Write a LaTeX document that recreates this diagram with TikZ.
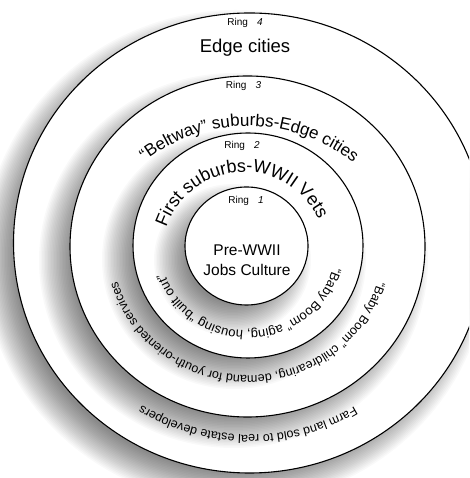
\documentclass[tikz,border=0pt]{standalone}
\usepackage{fontspec}
\setmainfont{Liberation Sans}
\usetikzlibrary{decorations.text}
\newcommand\ringshadow[4]{%
  \foreach \s in {-16,-14.5,...,17}{%
    \fill[black,opacity=0.023] (#1-14,#2-14) ellipse [x radius=#3+\s, y radius=#4+\s];}}
\begin{document}
\begin{tikzpicture}[x=1pt,y=1pt,
  ringline/.style={draw=black,line width=1.1pt,fill=white},
  ringlabel/.style={font=\fontsize{10}{12}\selectfont,inner sep=0pt},
  bigtext/.style={font=\fontsize{18.5}{22}\selectfont,inner sep=0pt},
  arctext/.style={decorate,decoration={text along path,text align=center,text={#1}}}]
\useasboundingbox (0,0) rectangle (469,478);
\clip (0,0) rectangle (469,478);
\fill[white] (0,0) rectangle (469,478);
% Ring 4
\ringshadow{249.5}{235}{236}{230}
\draw[ringline] (249.5,235) ellipse [x radius=236, y radius=230];
% Ring 3
\ringshadow{247.5}{231.5}{177.5}{170.5}
\draw[ringline] (247.5,231.5) ellipse [x radius=177.5, y radius=170.5];
% Ring 2
\ringshadow{248}{232.5}{115}{112.5}
\draw[ringline] (248,232.5) ellipse [x radius=115, y radius=112.5];
% Ring 1
\ringshadow{246.5}{232}{61.5}{59}
\draw[ringline] (246.5,232) ellipse [x radius=61.5, y radius=59];
% labels
\node[ringlabel] (r4) at (245,455) {Ring\hspace{0.9em}\textit{4}};
\node[ringlabel] (r3) at (243.5,392) {Ring\hspace{0.9em}\textit{3}};
\node[ringlabel] (r2) at (242,332) {Ring\hspace{0.9em}\textit{2}};
\node[ringlabel] (r1) at (246,277) {Ring\hspace{0.9em}\textit{1}};
\node[bigtext] (edge) at (245,430) {Edge cities};
\node[align=center,font=\fontsize{15.5}{20}\selectfont,inner sep=0pt] (core) at (247,218) {Pre-WWII\\Jobs Culture};
% curved texts, top
\path[arctext={|\fontsize{17}{20}\selectfont|“Beltway” suburbs-Edge cities}]
  (248,184) ++(145:168) arc[start angle=145, end angle=34, radius=168];
\path[arctext={|\fontsize{18}{20}\selectfont|First suburbs-WWII Vets}]
  (244,224) ++(178:82) arc[start angle=178, end angle=8, radius=82];
% curved texts, bottom
\path[arctext={|\fontsize{13}{15}\selectfont|“Baby Boom” aging, housing “built out”}]
  (248,232) ++(-2:88 and 85) arc[start angle=-2, end angle=-174, x radius=88, y radius=85];
\path[arctext={|\fontsize{12.5}{15}\selectfont|“Baby Boom” childrearing, demand for youth-oriented services}]
  (247.5,231.5) ++(-5:135 and 129) arc[start angle=-5, end angle=-175, x radius=135, y radius=129];
\path[arctext={|\fontsize{12.5}{15}\selectfont|Farm land sold to real estate developers}]
  (249.5,235) ++(-45:200 and 192) arc[start angle=-45, end angle=-136, x radius=200, y radius=192];
\end{tikzpicture}
\end{document}
